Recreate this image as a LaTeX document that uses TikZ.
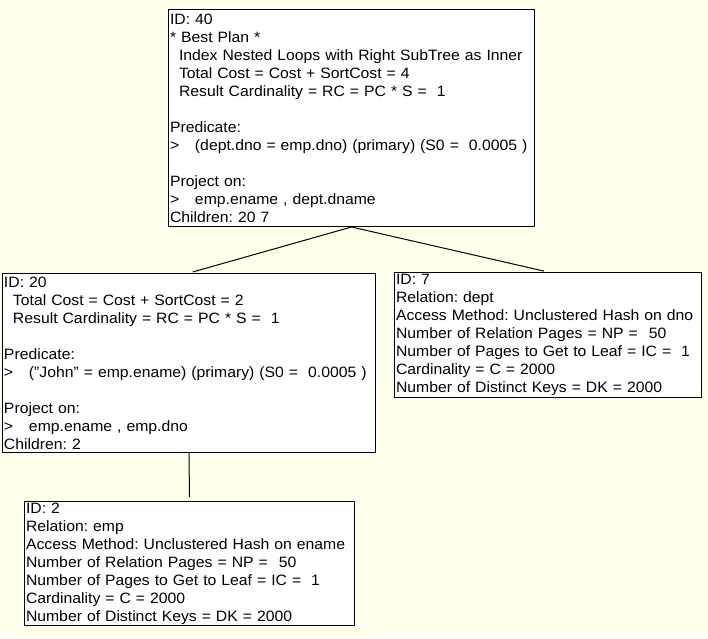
\documentclass[tikz,border=0pt]{standalone}
\usepackage{fontspec}
\setmainfont{Liberation Sans}[FakeStretch=1.05]
\definecolor{bgyellow}{RGB}{255,255,236}
\newcommand{\ind}{\hspace*{9pt}}
\newcommand{\gt}{\makebox[25pt][l]{>}}
\begin{document}
\begin{tikzpicture}[x=1pt,y=-1pt,
  planbox/.style={draw=black, line width=1pt, fill=white, anchor=north west,
    align=left, inner xsep=1.5pt, inner ysep=0pt,
    font=\fontsize{15}{18}\selectfont\frenchspacing},
  link/.style={draw=black, line width=1pt, shorten >=4pt}]
\fill[bgyellow] (0,0) rectangle (708,638);
\useasboundingbox (0,0) rectangle (708,638);
\node[planbox, text width=363pt, minimum height=217pt] (b40) at (168,9) {%
ID: 40\\
{*} Best Plan *\\
\ind Index Nested Loops with Right SubTree as Inner\\
\ind Total Cost = Cost + SortCost = 4\\
\ind Result Cardinality = RC = PC * S = \ 1\\
\mbox{}\\
Predicate:\\
\gt(dept.dno = emp.dno) (primary) (S0 = \ 0.0005 )\\
\mbox{}\\
Project on:\\
\gt emp.ename , dept.dname\\
Children: 20 7};
\node[planbox, text width=370pt, minimum height=179pt] (b20) at (2,273) {%
ID: 20\\
\ind Total Cost = Cost + SortCost = 2\\
\ind Result Cardinality = RC = PC * S = \ 1\\
\mbox{}\\
Predicate:\\
\gt("John" = emp.ename) (primary) (S0 = \ 0.0005 )\\
\mbox{}\\
Project on:\\
\gt emp.ename , emp.dno\\
Children: 2};
\node[planbox, text width=304pt, minimum height=125pt] (b7) at (394,272) {%
ID: 7\\
Relation: dept\\
Access Method: Unclustered Hash on dno\\
Number of Relation Pages = NP =\hspace{11pt}50\\
Number of Pages to Get to Leaf = IC = \ 1\\
Cardinality = C = 2000\\
Number of Distinct Keys = DK = 2000};
\node[planbox, text width=327pt, minimum height=124pt] (b2) at (24,501) {%
ID: 2\\
Relation: emp\\
Access Method: Unclustered Hash on ename\\
Number of Relation Pages = NP =\hspace{11pt}50\\
Number of Pages to Get to Leaf = IC = \ 1\\
Cardinality = C = 2000\\
Number of Distinct Keys = DK = 2000};
\draw[link] (b40.south) -- (b20.north);
\draw[link] (b40.south) -- (b7.north);
\draw[link] (b20.south) -- (b2.north);
\end{tikzpicture}
\end{document}
